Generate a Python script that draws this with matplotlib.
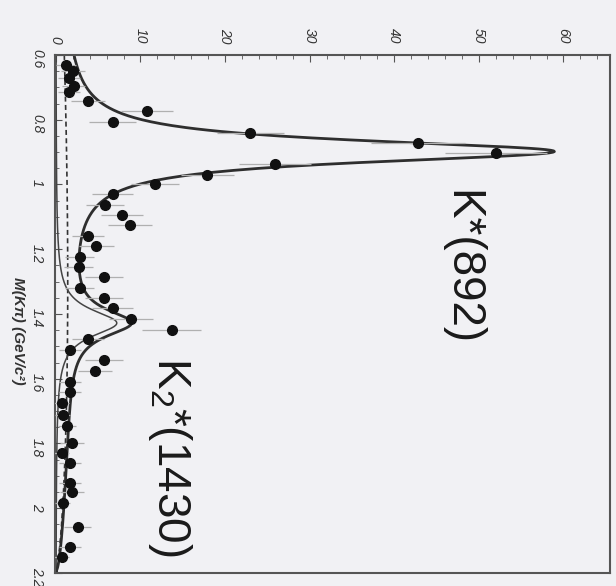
import numpy as np
import matplotlib
matplotlib.use('Agg')
import matplotlib.pyplot as plt
from matplotlib.ticker import MultipleLocator, FuncFormatter

# K-pi invariant mass bins (GeV/c^2) and event counts with errors
mass = [0.630, 0.650, 0.670, 0.695, 0.715, 0.742, 0.773, 0.807, 0.840, 0.872,
        0.903, 0.937, 0.970, 0.999, 1.030, 1.062, 1.094, 1.125, 1.159, 1.190,
        1.224, 1.255, 1.286, 1.320, 1.350, 1.380, 1.415, 1.450, 1.477, 1.510,
        1.542, 1.576, 1.610, 1.640, 1.675, 1.712, 1.745, 1.798, 1.829, 1.860,
        1.922, 1.950, 1.984, 2.058, 2.120, 2.150]
counts = [1.2, 2.0, 1.6, 2.1, 1.6, 3.8, 10.8, 6.7, 23.0, 42.8,
          52.0, 25.9, 17.9, 11.7, 6.7, 5.8, 7.8, 8.8, 3.8, 4.8,
          2.8, 2.7, 5.7, 2.8, 5.7, 6.7, 8.9, 13.7, 3.8, 1.7,
          5.7, 4.6, 1.7, 1.7, 0.7, 0.8, 1.3, 1.9, 0.7, 1.7,
          1.7, 1.9, 0.8, 2.6, 1.7, 0.7]
errors = [1.2, 1.4, 1.3, 1.4, 1.3, 2.0, 3.1, 2.8, 4.0, 5.5,
          6.0, 4.2, 3.1, 2.8, 2.4, 2.2, 2.5, 2.6, 1.9, 2.1,
          1.7, 1.7, 2.2, 1.7, 2.2, 2.4, 2.6, 3.5, 1.9, 1.3,
          2.2, 2.0, 1.3, 1.3, 0.9, 0.9, 1.1, 1.4, 0.9, 1.3,
          1.3, 1.4, 0.9, 1.6, 1.3, 0.9]

# fit components: two Breit-Wigners on a smooth background
KSTAR_M, KSTAR_HW, KSTAR_AMP = 0.898, 0.042, 57.6
K2_M, K2_HW, K2_AMP = 1.428, 0.050, 7.2
BKG_AMP, BKG_P, BKG_Q, M_END = 1.19, 0.62, 0.909, 2.19

M_MIN, M_MAX = 0.6, 2.2
W, H = 616, 586


def breit_wigner(m, m0, hw, amp):
    return amp / (1.0 + ((m - m0) / hw) ** 2)


def background(m):
    return BKG_AMP * np.clip(M_END - m, 0, None) ** BKG_P * m ** BKG_Q


def fig_xy(px, py):
    # pixel position measured from the top-left corner -> figure fraction
    return px / W, 1 - py / H


plt.rcParams['font.family'] = ['Liberation Sans', 'DejaVu Sans']
plt.rcParams['mathtext.fontset'] = 'custom'
plt.rcParams['mathtext.rm'] = 'Liberation Sans'
plt.rcParams['mathtext.it'] = 'Liberation Sans:italic'

bg_col = '#f1f1f4'
fig = plt.figure(figsize=(W / 100, H / 100), dpi=100, facecolor=bg_col)
ax = fig.add_axes([0.0893, 0.0222, 0.9010, 0.8840])
ax.set_facecolor(bg_col)

m = np.linspace(M_MIN, M_MAX, 800)
kstar = breit_wigner(m, KSTAR_M, KSTAR_HW, KSTAR_AMP)
k2 = breit_wigner(m, K2_M, K2_HW, K2_AMP)
bkg = background(m)
total = kstar + k2 + bkg

# the plot is drawn turned on its side: counts run across, mass runs down
ax.plot(bkg, m, color='#333333', lw=1.2, ls=(0, (3, 2)))
ax.plot(k2, m, color='#444444', lw=1.1)
ax.plot(total, m, color='#2e2e2e', lw=2.0)
ax.errorbar(counts, mass, xerr=errors, fmt='o', color='#111111', ms=7,
            ecolor='#b0b0b0', elinewidth=0.9, capsize=0, zorder=5)

ax.set_xlim(-0.1, 65.5)
ax.set_ylim(M_MAX, M_MIN)

ax.xaxis.tick_top()
ax.xaxis.set_major_locator(MultipleLocator(10))
ax.xaxis.set_minor_locator(MultipleLocator(2))
ax.yaxis.set_major_locator(MultipleLocator(0.2))
ax.yaxis.set_minor_locator(MultipleLocator(0.05))
ax.yaxis.set_major_formatter(FuncFormatter(lambda v, p: '%g' % round(v, 2)))
ax.tick_params(axis='both', which='both', direction='in', colors='#555555')
ax.tick_params(axis='both', which='major', length=5)
ax.tick_params(axis='both', which='minor', length=3)
ax.tick_params(axis='x', which='major', pad=8, labelsize=10, labelcolor='#333333')
ax.tick_params(axis='y', which='major', pad=8, labelsize=10, labelcolor='#333333')
for lab in ax.get_xticklabels() + ax.get_yticklabels():
    lab.set_rotation(-90)
    lab.set_fontstyle('italic')

for sp in ax.spines.values():
    sp.set_color('#555555')
    sp.set_linewidth(1.5)

fig.text(*fig_xy(18, 331), 'M(K\u03c0) (GeV/c\u00b2)', rotation=-90,
         ha='center', va='center', fontsize=11, fontstyle='italic',
         fontweight='bold', color='#333333')

fig.text(*fig_xy(461, 268), 'K*(892)', rotation=-90, ha='center',
         va='center', fontsize=33, color='#1a1a1a')
fig.text(*fig_xy(170, 457), r'$\mathrm{K}_{2}$*(1430)', rotation=-90,
         ha='center', va='center', fontsize=33, color='#1a1a1a')

fig.savefig('out.png', dpi=100, facecolor=bg_col)
